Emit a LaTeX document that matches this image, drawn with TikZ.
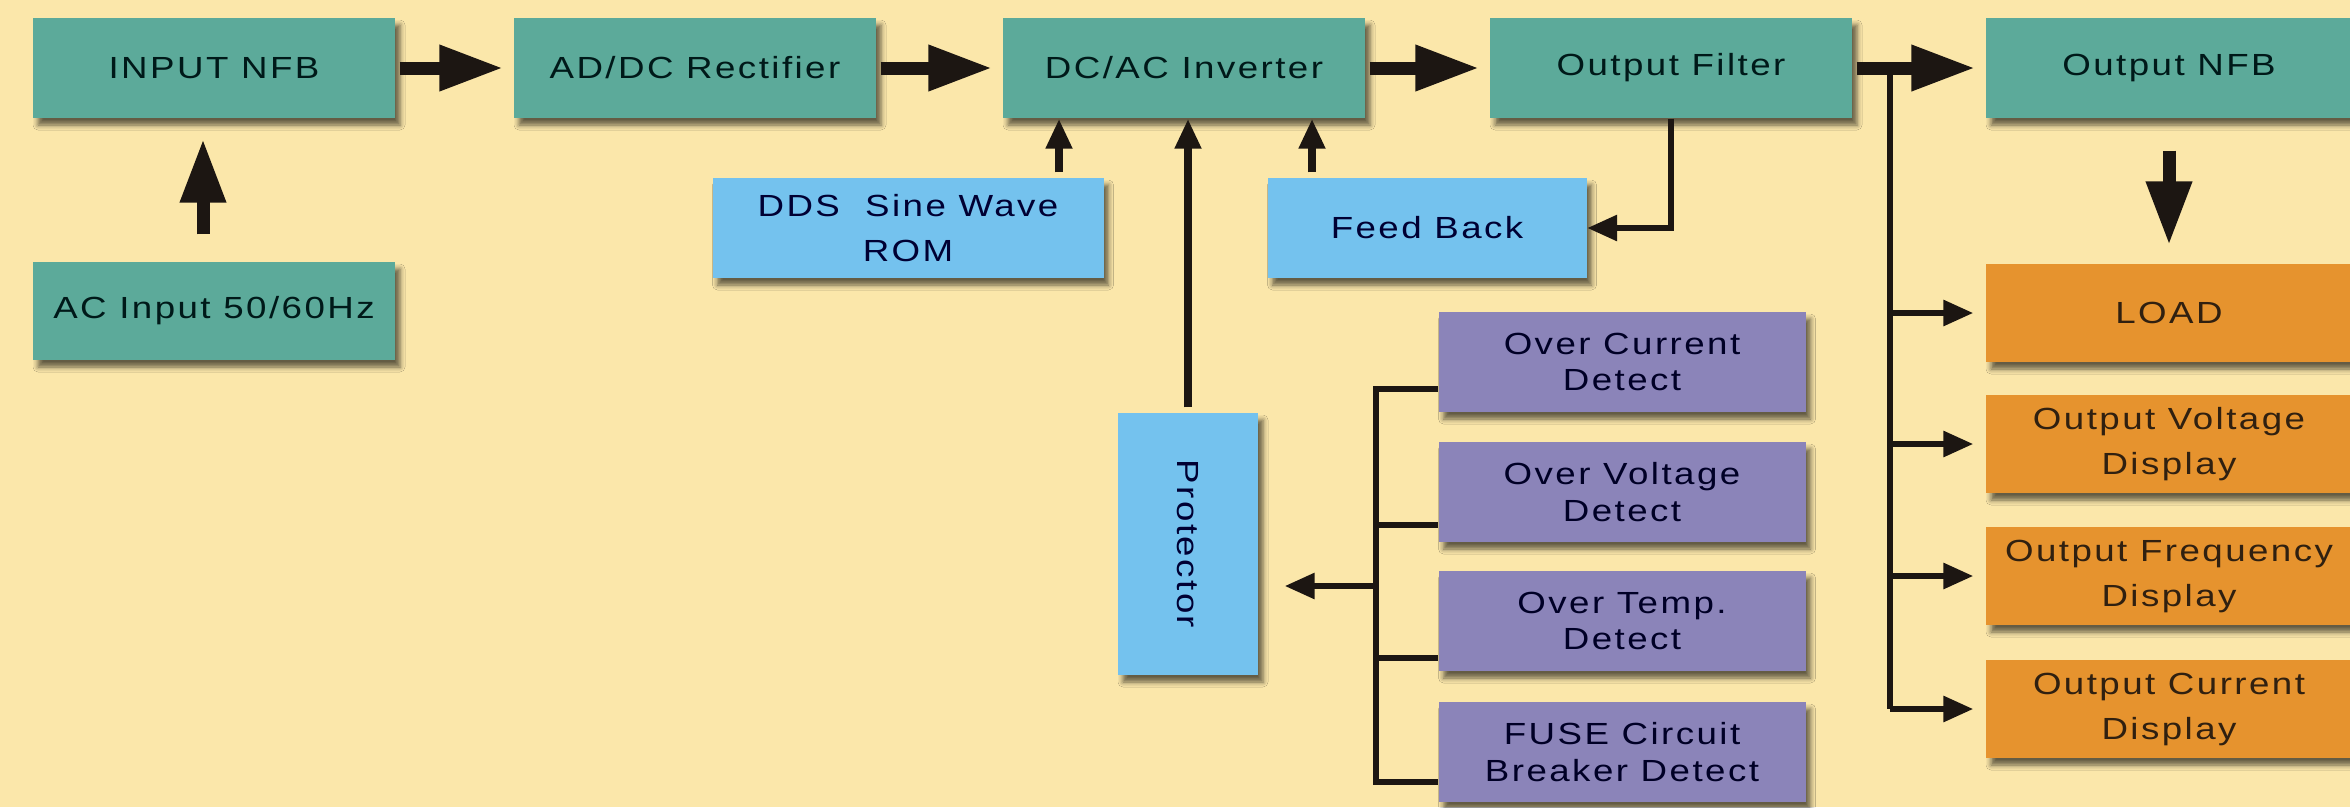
\documentclass[tikz,border=0pt]{standalone}
\usepackage{fontspec}
\setmainfont{Liberation Sans}[FakeStretch=1.2,LetterSpace=8]
\usepackage{tikz}
\usetikzlibrary{arrows.meta,shadows.blur}

\definecolor{paper}{RGB}{251,231,170}
\definecolor{tealfill}{RGB}{92,170,154}
\definecolor{bluefill}{RGB}{116,194,238}
\definecolor{purplefill}{RGB}{139,132,185}
\definecolor{orangefill}{RGB}{230,147,46}
\definecolor{ink}{RGB}{28,22,18}

\begin{document}
\begin{tikzpicture}[x=0.1mm,y=-0.1mm,
  box/.style={inner sep=0pt,align=center,minimum height=10mm,
    font=\fontsize{8.7}{12.8}\selectfont,
    blur shadow={shadow xshift=0.5mm,shadow yshift=-0.7mm,shadow blur radius=0.5mm,shadow opacity=60}},
  tealbox/.style={box,fill=tealfill,text=black!80!teal,minimum width=36.2mm},
  bluebox/.style={box,fill=bluefill,text=black!80!blue},
  purplebox/.style={box,fill=purplefill,text=black!85!blue,minimum width=36.7mm,font=\fontsize{8.7}{10.5}\selectfont},
  orangebox/.style={box,fill=orangefill,text=black!75!brown,minimum width=36.6mm,minimum height=9.8mm},
  bigarrow/.style={draw=ink,line width=1.3mm,-{Triangle[length=6.4mm,width=4.3mm]},shorten <=0.4mm,shorten >=1mm},
  midarrow/.style={draw=ink,line width=0.75mm,-{Triangle[length=3mm,width=2.5mm]},shorten <=0.5mm},
  thinarrow/.style={draw=ink,line width=0.6mm,-{Triangle[length=3mm,width=2.5mm]}},
  thinline/.style={draw=ink,line width=0.6mm}]
\useasboundingbox (0,0) rectangle (2350,807);
\fill[paper] (0,0) rectangle (2350,807);

% power path
\node (NFB1) at (214,68)[tealbox] {INPUT NFB};
\node (REC) at (695,68)[tealbox] {AD/DC Rectifier};
\node (INV) at (1184,68)[tealbox] {DC/AC Inverter};
\node (FIL) at (1671,68)[tealbox] {Output Filter};
\node (NFB2) at (2169,68)[tealbox,minimum width=36.6mm] {Output NFB};
\node (ACIN) at (214,311)[tealbox,minimum height=9.8mm] {AC Input 50/60Hz};

% control
\node (DDS) at (908,228)[bluebox,minimum width=39.1mm] {DDS~ Sine Wave\\ROM};
\node (FB) at (1427,228)[bluebox,minimum width=31.9mm] {Feed Back};
\node (PRO) at (1188,544)[bluebox,minimum width=14mm,minimum height=26.2mm] {\rotatebox{-90}{Protector}};

% detectors
\node (OC) at (1622,362)[purplebox] {Over Current\\Detect};
\node (OV) at (1622,492)[purplebox] {Over Voltage\\Detect};
\node (OT) at (1622,621)[purplebox] {Over Temp.\\Detect};
\node (FUSE) at (1622,752)[purplebox] {FUSE Circuit\\Breaker Detect};

% outputs
\node (LOAD) at (2169,313)[orangebox] {LOAD};
\node (OVD) at (2169,444)[orangebox] {Output Voltage\\Display};
\node (OFD) at (2169,576)[orangebox] {Output Frequency\\Display};
\node (OCD) at (2169,709)[orangebox] {Output Current\\Display};

\draw [bigarrow] (NFB1) -- (REC);
\draw [bigarrow] (REC) -- (INV);
\draw [bigarrow] (INV) -- (FIL);
\draw [bigarrow] (FIL) -- (NFB2);
\draw [bigarrow,shorten <=2.7mm,shorten >=2mm] ([xshift=-1.1mm]ACIN.north) -- ([xshift=-1.1mm]NFB1.south);
\draw [bigarrow,shorten <=3.2mm,shorten >=1.8mm] (NFB2) -- (LOAD);

\draw [midarrow] ([xshift=15.1mm]DDS.north) -- ([xshift=15.1mm]DDS.north |- INV.south);
\draw [midarrow] ([xshift=-11.5mm]FB.north) -- ([xshift=-11.5mm]FB.north |- INV.south);
\draw [midarrow] (PRO) -- (PRO |- INV.south);
\draw [thinarrow] (FIL) |- (FB);

% output bus
\coordinate (OB) at (1890,68);
\draw [thinline] (OB) -- (OB |- OCD.west);
\draw [thinarrow,shorten >=1.2mm] (OB |- LOAD.west) -- (LOAD.west);
\draw [thinarrow,shorten >=1.2mm] (OB |- OVD.west) -- (OVD.west);
\draw [thinarrow,shorten >=1.2mm] (OB |- OFD.west) -- (OFD.west);
\draw [thinarrow,shorten >=1.2mm] (OB |- OCD.west) -- (OCD.west);

% detector bus
\coordinate (DT) at (1376,389);
\coordinate (DE) at (1376,782);
\coordinate (DB) at (1376,586);
\draw [thinline] (OC.west |- DT) -- (DT) -- (DE) -- (FUSE.west |- DE);
\draw [thinline] ([yshift=-3.3mm]OV.west) -- +(-63,0);
\draw [thinline] ([yshift=-3.7mm]OT.west) -- +(-63,0);
\draw [thinarrow,shorten >=2.6mm] (DB) -- (PRO.east |- DB);
\end{tikzpicture}
\end{document}
